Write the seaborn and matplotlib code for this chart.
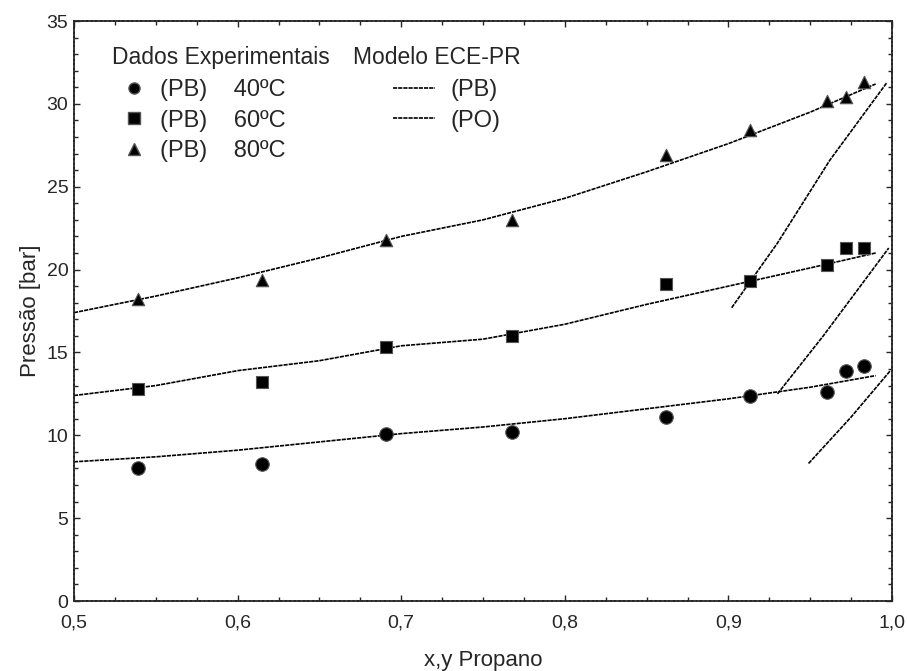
import numpy as np
import pandas as pd
import matplotlib
matplotlib.use('Agg')
import matplotlib.pyplot as plt
from matplotlib.lines import Line2D
from matplotlib.ticker import MultipleLocator, FuncFormatter
import seaborn as sns

# experimental data (PB = ponto de bolha)
x_exp = [0.539, 0.615, 0.691, 0.768, 0.862, 0.913, 0.960, 0.972, 0.983]
p_40 = [8.0, 8.25, 10.1, 10.2, 11.1, 12.4, 12.6, 13.9, 14.2]
p_60 = [12.8, 13.2, 15.3, 16.0, 19.1, 19.3, 20.3, 21.3, 21.3]
p_80 = [18.2, 19.4, 21.8, 23.0, 26.9, 28.4, 30.2, 30.4, 31.3]

# modelo ECE-PR, curva de bolha (PB)
x_pb = [0.5, 0.55, 0.6, 0.65, 0.7, 0.75, 0.8, 0.85, 0.9, 0.95, 0.99]
pb_40 = [8.4, 8.7, 9.1, 9.6, 10.1, 10.5, 11.0, 11.6, 12.2, 12.9, 13.6]
pb_60 = [12.4, 13.0, 13.9, 14.5, 15.4, 15.8, 16.7, 17.9, 19.0, 20.1, 21.0]
pb_80 = [17.4, 18.4, 19.5, 20.7, 22.0, 23.0, 24.3, 25.9, 27.6, 29.5, 31.2]

# modelo ECE-PR, curva de orvalho (PO)
y_po_40 = [0.949, 0.975, 0.999]
po_40 = [8.3, 11.1, 13.9]
y_po_60 = [0.930, 0.958, 0.998]
po_60 = [12.5, 16.0, 21.3]
y_po_80 = [0.902, 0.930, 0.962, 0.997]
po_80 = [17.7, 21.6, 26.6, 31.3]

temps = ['40ºC', '60ºC', '80ºC']

exp_df = pd.DataFrame({
    'x': x_exp * 3,
    'P': p_40 + p_60 + p_80,
    'T': [t for t in temps for _ in x_exp],
})

sns.set_style('ticks')
plt.rcParams['font.family'] = ['Liberation Sans', 'DejaVu Sans']

fig = plt.figure(figsize=(9.07, 6.71), dpi=100)
ax = fig.add_axes([74 / 907, 70 / 671, 818 / 907, 580 / 671])

line_kw = dict(color='black', linewidth=1.2, linestyle=(0, (2.5, 0.6)))
for xs, ps in [(x_pb, pb_40), (x_pb, pb_60), (x_pb, pb_80),
               (y_po_40, po_40), (y_po_60, po_60), (y_po_80, po_80)]:
    sns.lineplot(x=xs, y=ps, ax=ax, sort=False, estimator=None, legend=False, **line_kw)

markers = {'40ºC': 'o', '60ºC': 's', '80ºC': '^'}
sizes = {'40ºC': 95, '60ºC': 85, '80ºC': 80}
for t in temps:
    sub = exp_df[exp_df['T'] == t]
    sns.scatterplot(data=sub, x='x', y='P', marker=markers[t], ax=ax, color='black',
                    edgecolor='#555555', linewidth=0.8, s=sizes[t], legend=False, zorder=3)

ax.set_xlim(0.5, 1.0)
ax.set_ylim(0, 35)
ax.xaxis.set_major_locator(MultipleLocator(0.1))
ax.xaxis.set_minor_locator(MultipleLocator(0.025))
ax.yaxis.set_major_locator(MultipleLocator(5))
ax.yaxis.set_minor_locator(MultipleLocator(1))
ax.xaxis.set_major_formatter(FuncFormatter(lambda v, p: f'{v:.1f}'.replace('.', ',')))
ax.tick_params(which='both', direction='in', top=True, right=True, width=1.0)
ax.tick_params(which='major', length=4, labelsize=14)
ax.tick_params(axis='x', which='major', pad=10)
ax.tick_params(axis='y', which='major', pad=4)
ax.tick_params(which='minor', length=3)
for sp in ax.spines.values():
    sp.set_linestyle((0, (2, 0.5)))
    sp.set_linewidth(1.3)

ax.set_xlabel('x,y Propano', fontsize=16, labelpad=13)
ax.set_ylabel('Pressão [bar]', fontsize=16, labelpad=4)

# legenda
ax.text(0.046, 0.937, 'Dados Experimentais', transform=ax.transAxes, fontsize=16.5, va='center')
ax.text(0.341, 0.937, 'Modelo ECE-PR', transform=ax.transAxes, fontsize=16.5, va='center')

exp_handles = [Line2D([], [], marker=markers[t], color='black', markeredgecolor='#555555',
                      linestyle='none', markersize=8) for t in temps]
leg1 = ax.legend(exp_handles, [f'(PB)    {t}' for t in temps], loc='upper left',
                 bbox_to_anchor=(0.0587, 0.9), frameon=False, fontsize=17,
                 handlelength=1.0, handletextpad=0.6, labelspacing=0.36,
                 borderpad=0, borderaxespad=0)
ax.add_artist(leg1)
mod_handles = [Line2D([], [], **line_kw), Line2D([], [], **line_kw)]
ax.legend(mod_handles, ['(PB)', '(PO)'], loc='upper left', bbox_to_anchor=(0.39, 0.9),
          frameon=False, fontsize=17, handlelength=1.78, handletextpad=0.64,
          labelspacing=0.36, borderpad=0, borderaxespad=0)

fig.savefig('out.png', dpi=100)
